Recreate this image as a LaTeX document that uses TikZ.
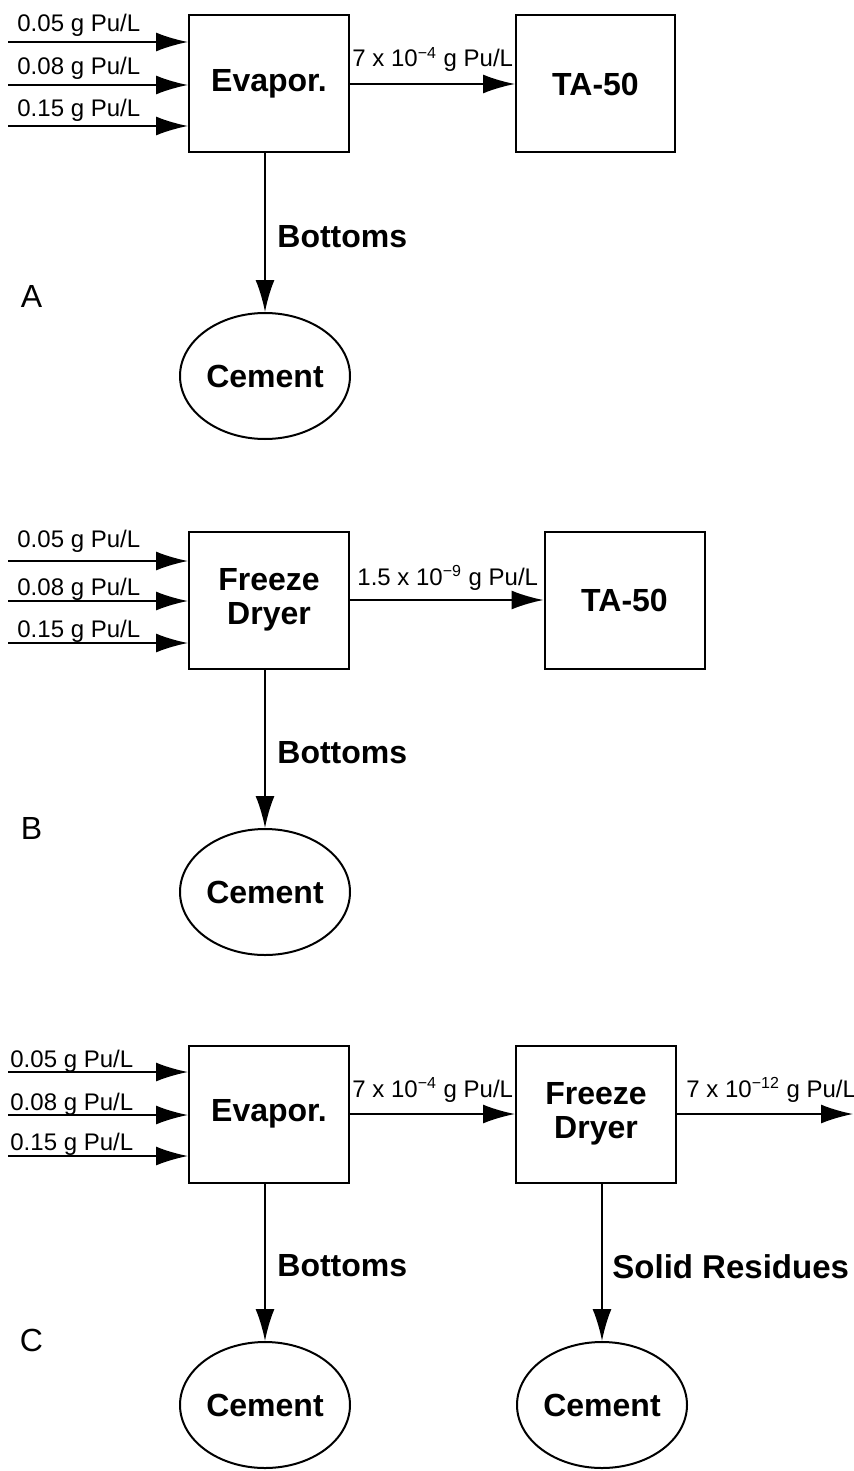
\documentclass[tikz,border=0pt]{standalone}
\usepackage{fontspec}
\setmainfont{Liberation Sans}
\usetikzlibrary{arrows.meta,shapes.geometric}
\begin{document}
\begin{tikzpicture}[x=0.5pt,y=-0.5pt,
  box/.style={draw,line width=1pt,minimum width=80pt,minimum height=68.5pt,inner sep=0pt,font=\bfseries\fontsize{16}{17}\selectfont,align=center},
  ell/.style={draw,ellipse,line width=1pt,minimum width=85pt,minimum height=63pt,inner sep=0pt,font=\bfseries\fontsize{16}{17}\selectfont},
  flow/.style={line width=1pt,-{Latex[length=16pt,width=9.5pt]}},
  small/.style={font=\fontsize{12}{14}\selectfont,inner sep=0pt,anchor=base west},
  lbl/.style={font=\bfseries\fontsize{16}{17}\selectfont,inner sep=0pt,anchor=west},
  sec/.style={font=\fontsize{16}{18}\selectfont,inner sep=0pt}]
\useasboundingbox (0,0) rectangle (853,1471);

% ---------------- A ----------------
\node[box] (evA) at (269,84) {Evapor.};
\node[box,minimum width=79.5pt] (taA) at (595.5,84) {TA-50};
\node[ell] (ceA) at (265,376) {Cement};
\coordinate (ia1) at (8,42);
\coordinate (ia2) at (8,85);
\coordinate (ia3) at (8,126);
\draw[flow] (ia1) -- (ia1 -| evA.west);
\draw[flow] (ia2) -- (ia2 -| evA.west);
\draw[flow] (ia3) -- (ia3 -| evA.west);
\node[small] (la1) at (17,32) {0.05 g Pu/L};
\node[small] (la2) at (17,75) {0.08 g Pu/L};
\node[small] (la3) at (17,117) {0.15 g Pu/L};
\draw[flow] (evA.east) -- (taA.west);
\node[small] (oa) at (352,67) {7 x 10\textsuperscript{−4} g Pu/L};
\draw[flow] (ceA.north |- evA.south) -- (ceA.north);
\node[lbl] (ba) at (277,237) {Bottoms};
\node[sec] (sa) at (31.5,296) {A};

% ---------------- B ----------------
\node[box] (fdB) at (269,600) {Freeze\\Dryer};
\node[box] (taB) at (624.5,600.5) {TA-50};
\node[ell] (ceB) at (265,892) {Cement};
\coordinate (ib1) at (8,561);
\coordinate (ib2) at (8,601);
\coordinate (ib3) at (8,643);
\draw[flow] (ib1) -- (ib1 -| fdB.west);
\draw[flow] (ib2) -- (ib2 -| fdB.west);
\draw[flow] (ib3) -- (ib3 -| fdB.west);
\node[small] (lb1) at (17,547) {0.05 g Pu/L};
\node[small] (lb2) at (17,595) {0.08 g Pu/L};
\node[small] (lb3) at (17,637) {0.15 g Pu/L};
\draw[flow] (fdB.east) -- (fdB.east -| taB.west);
\node[small] (ob) at (357,585) {1.5 x 10\textsuperscript{−9} g Pu/L};
\draw[flow] (ceB.north |- fdB.south) -- (ceB.north);
\node[lbl] (bb) at (277,753) {Bottoms};
\node[sec] (sb) at (31.5,828) {B};

% ---------------- C ----------------
\node[box] (evC) at (269,1114) {Evapor.};
\node[box] (fdC) at (596,1114) {Freeze\\Dryer};
\node[ell] (ceC1) at (265,1405) {Cement};
\node[ell] (ceC2) at (602,1405) {Cement};
\coordinate (ic1) at (8,1072);
\coordinate (ic2) at (8,1115);
\coordinate (ic3) at (8,1156);
\draw[flow] (ic1) -- (ic1 -| evC.west);
\draw[flow] (ic2) -- (ic2 -| evC.west);
\draw[flow] (ic3) -- (ic3 -| evC.west);
\node[small] (lc1) at (10,1067) {0.05 g Pu/L};
\node[small] (lc2) at (10,1110) {0.08 g Pu/L};
\node[small] (lc3) at (10,1150) {0.15 g Pu/L};
\draw[flow] (evC.east) -- (fdC.west);
\node[small] (oc1) at (352,1097) {7 x 10\textsuperscript{−4} g Pu/L};
\coordinate (outC) at (853,1114);
\draw[flow] (fdC.east) -- (outC);
\node[small] (oc2) at (686,1097) {7 x 10\textsuperscript{−12} g Pu/L};
\draw[flow] (ceC1.north |- evC.south) -- (ceC1.north);
\draw[flow] (ceC2.north |- fdC.south) -- (ceC2.north);
\node[lbl] (bc) at (277,1266) {Bottoms};
\node[lbl,font=\bfseries\fontsize{16.5}{17}\selectfont] (rc) at (612,1267) {Solid Residues};
\node[sec] (sc) at (31.5,1340) {C};
\end{tikzpicture}
\end{document}
